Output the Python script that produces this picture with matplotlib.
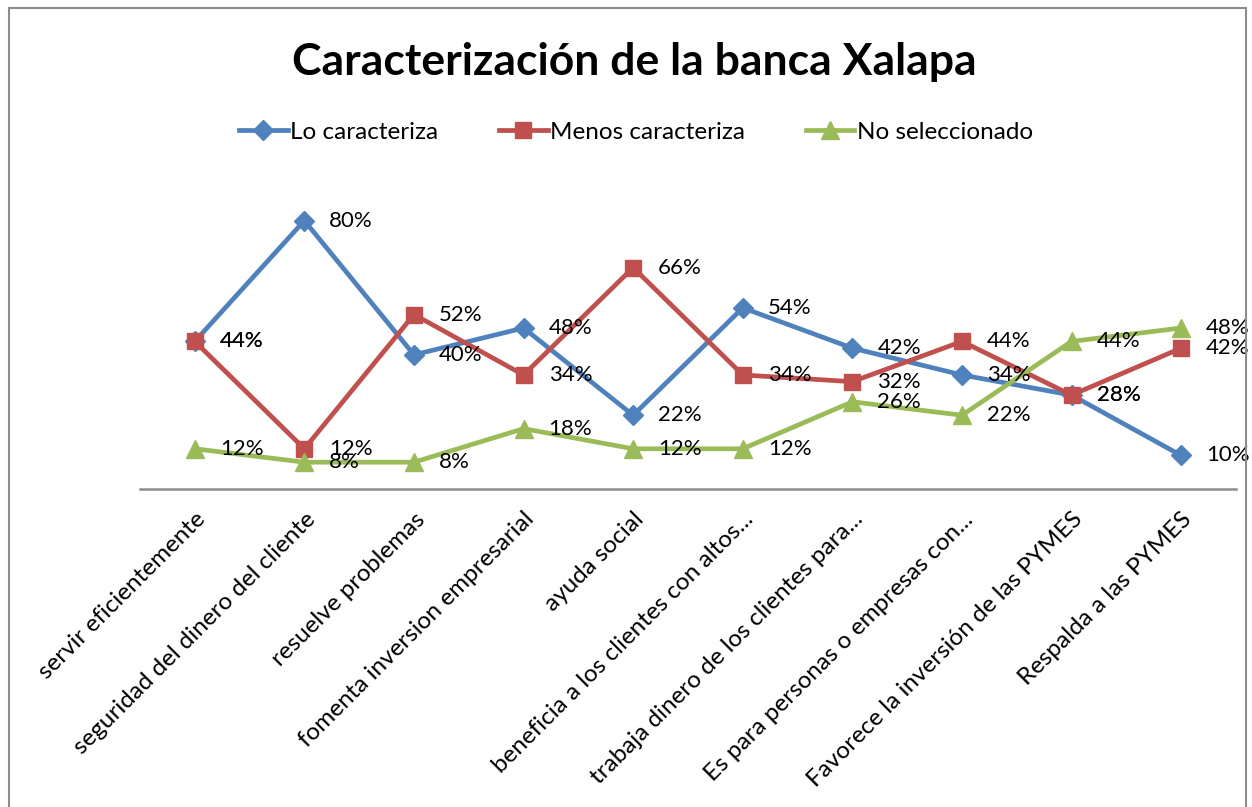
import numpy as np
import matplotlib.pyplot as plt
from matplotlib.patches import Rectangle

plt.rcParams['font.family'] = ['Lato', 'DejaVu Sans']

# categorias (eje x)
categorias = ['servir eficientemente', 'seguridad del dinero del cliente',
              'resuelve problemas', 'fomenta inversion empresarial',
              'ayuda social', 'beneficia a los clientes con altos...',
              'trabaja dinero de los clientes para...',
              'Es para personas o empresas con...',
              'Favorece la inversión de las PYMES', 'Respalda a las PYMES']

# valores en porcentaje
lo_caracteriza = [44, 80, 40, 48, 22, 54, 42, 34, 28, 10]
menos_caracteriza = [44, 12, 52, 34, 66, 34, 32, 44, 28, 42]
no_seleccionado = [12, 8, 8, 18, 12, 12, 26, 22, 44, 48]

series = [
    ('Lo caracteriza', lo_caracteriza, '#4F81BD', 'D', 10.5),
    ('Menos caracteriza', menos_caracteriza, '#C0504D', 's', 11.5),
    ('No seleccionado', no_seleccionado, '#9BBB59', '^', 12.5),
]

fig = plt.figure(figsize=(12.52, 8.07), dpi=100)
ax = fig.add_axes([0.1118, 0.394, 0.8754, 0.3742])

x = np.arange(len(categorias))
for nombre, vals, color, mk, ms in series:
    ax.plot(x, vals, color=color, lw=3.4, marker=mk, markersize=ms,
            label=nombre, clip_on=False)
    for xi, v in zip(x, vals):
        ax.annotate(f'{v}%', (xi, v), xytext=(18, 0), textcoords='offset points',
                    ha='left', va='center', fontsize=16, color='black')

ax.set_xlim(-0.5, len(categorias) - 0.5)
ax.set_ylim(0, 90)
ax.set_xticks(x)
ax.set_xticklabels(categorias, rotation=45, ha='right', rotation_mode='anchor',
                   fontsize=17.5)
ax.tick_params(axis='x', length=0, pad=14)
ax.set_yticks([])
for s in ['top', 'left', 'right']:
    ax.spines[s].set_visible(False)
ax.spines['bottom'].set_color('#8C8C8C')
ax.spines['bottom'].set_linewidth(1.8)

fig.text(0.507, 0.923, 'Caracterización de la banca Xalapa', ha='center',
         va='center', fontsize=32, fontweight='bold')

fig.legend(loc='center', bbox_to_anchor=(0.508, 0.836), ncol=3, frameon=False,
           fontsize=17.5, handlelength=2.0, handletextpad=0.1, columnspacing=2.5)

# borde del área del gráfico
fig.patches.append(Rectangle((0.007, -0.01), 0.988, 1.0, transform=fig.transFigure,
                             fill=False, edgecolor='#8C8C8C', lw=1.5))

fig.savefig('out.png', dpi=100)
